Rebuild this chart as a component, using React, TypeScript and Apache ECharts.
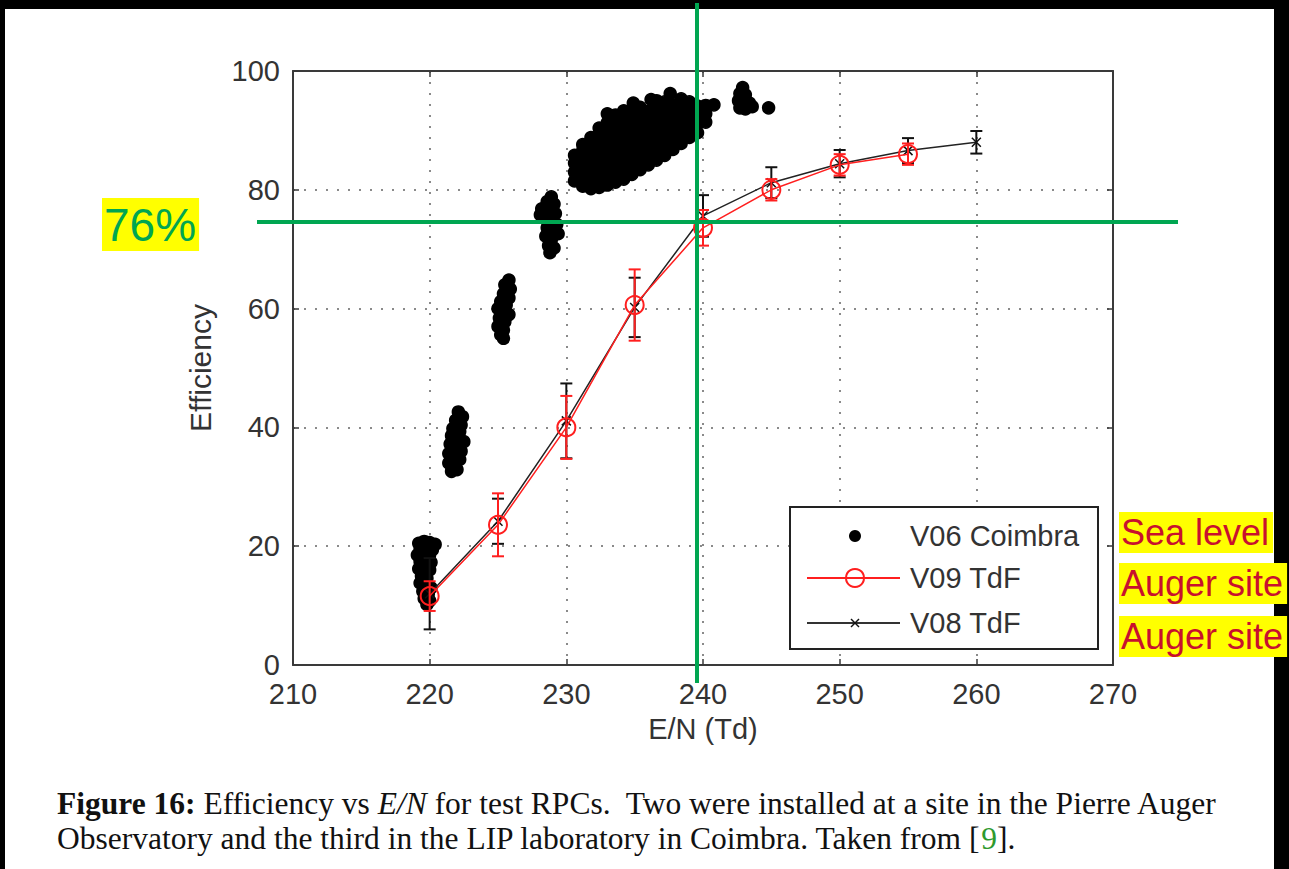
import React, { useEffect, useRef } from "react";
import * as echarts from "echarts";

// ---------- data ----------
const xTickValues = [210, 220, 230, 240, 250, 260, 270];
const yTickValues = [0, 20, 40, 60, 80, 100];

// V06 Coimbra (sea level) – dense clusters of measurements
const coimbra219: [number, number][] = [
  [219.2, 20.5], [219.6, 20.8], [220.0, 20.6], [220.4, 20.3], [219.3, 19.5], [219.8, 19.7],
  [220.2, 19.4], [219.1, 18.5], [219.5, 18.3], [220.0, 18.6], [219.3, 17.4], [219.7, 17.0],
  [220.1, 17.3], [219.2, 16.2], [219.6, 15.8], [220.0, 16.0], [219.4, 15.0], [219.8, 14.6],
  [219.3, 13.8], [219.7, 13.4], [220.1, 13.0], [219.5, 12.4], [219.9, 12.0], [219.6, 11.2],
  [220.0, 10.8], [219.8, 10.2],
];
const coimbra222: [number, number][] = [
  [222.1, 42.6], [222.4, 41.8], [221.9, 41.2], [222.3, 40.4], [221.7, 39.8], [222.2, 39.3],
  [221.6, 38.6], [222.0, 38.0], [222.5, 37.6], [221.5, 37.2], [221.9, 36.6], [222.3, 36.0],
  [221.4, 35.6], [221.8, 35.0], [222.2, 34.6], [221.4, 34.0], [221.8, 33.4], [221.6, 32.6],
  [222.0, 32.9],
];
const coimbra225: [number, number][] = [
  [225.8, 64.8], [225.5, 64.0], [225.9, 63.3], [225.4, 62.5], [225.8, 61.8], [225.2, 61.2],
  [225.6, 60.6], [225.0, 60.0], [225.4, 59.4], [225.8, 59.0], [225.1, 58.4], [225.5, 57.8],
  [225.0, 57.0], [225.4, 56.4], [225.2, 55.6], [225.4, 55.0],
];
const coimbra229: [number, number][] = [
  [228.9, 78.8], [228.6, 78.0], [229.1, 77.6], [228.2, 76.8], [228.7, 76.4], [229.2, 76.0],
  [228.4, 75.2], [228.9, 74.8], [229.3, 74.2], [228.6, 73.6], [229.0, 73.0], [228.5, 72.2],
  [228.9, 71.6], [228.7, 70.6], [229.1, 70.2], [228.8, 69.4], [228.1, 75.8], [229.4, 72.6],
];
const coimbraBand: [number, number][] = [
  [230.6, 81.5], [230.6, 83.0], [230.6, 84.5], [230.6, 85.8],
  [231.2, 80.6], [231.2, 82.1], [231.2, 83.6], [231.2, 85.1], [231.2, 86.6], [231.2, 87.6],
  [231.8, 80.2], [231.8, 81.7], [231.8, 83.2], [231.8, 84.7], [231.8, 86.2], [231.8, 87.7], [231.8, 88.8],
  [232.4, 80.4], [232.4, 81.9], [232.4, 83.4], [232.4, 84.9], [232.4, 86.4], [232.4, 87.9], [232.4, 89.4], [232.4, 90.4],
  [233.0, 80.8], [233.0, 82.3], [233.0, 83.8], [233.0, 85.3], [233.0, 86.8], [233.0, 88.3], [233.0, 89.8], [233.0, 91.3], [233.0, 92.8],
  [233.6, 81.3], [233.6, 82.8], [233.6, 84.3], [233.6, 85.8], [233.6, 87.3], [233.6, 88.8], [233.6, 90.3], [233.6, 91.8], [233.6, 92.6],
  [234.2, 81.8], [234.2, 83.3], [234.2, 84.8], [234.2, 86.3], [234.2, 87.8], [234.2, 89.3], [234.2, 90.8], [234.2, 92.3], [234.2, 93.3],
  [234.8, 82.6], [234.8, 84.1], [234.8, 85.6], [234.8, 87.1], [234.8, 88.6], [234.8, 90.1], [234.8, 91.6], [234.8, 93.1], [234.9, 94.6],
  [235.4, 83.4], [235.4, 84.9], [235.4, 86.4], [235.4, 87.9], [235.4, 89.4], [235.4, 90.9], [235.4, 92.4], [235.4, 93.9],
  [236.0, 84.2], [236.0, 85.7], [236.0, 87.2], [236.0, 88.7], [236.0, 90.2], [236.0, 91.7], [236.0, 93.2], [236.2, 95.2],
  [236.6, 85.0], [236.6, 86.5], [236.6, 88.0], [236.6, 89.5], [236.6, 91.0], [236.6, 92.5], [236.6, 94.0], [236.6, 95.0],
  [237.2, 85.8], [237.2, 87.3], [237.2, 88.8], [237.2, 90.3], [237.2, 91.8], [237.2, 93.3], [237.2, 94.8],
  [237.8, 86.8], [237.8, 88.3], [237.8, 89.8], [237.8, 91.3], [237.8, 92.8], [237.8, 94.3], [237.6, 96.2],
  [238.4, 87.8], [238.4, 89.3], [238.4, 90.8], [238.4, 92.3], [238.4, 93.8], [238.4, 95.3],
  [239.0, 88.8], [239.0, 90.3], [239.0, 91.8], [239.0, 93.3], [239.0, 94.8],
  [239.6, 89.6], [239.6, 91.1], [239.6, 92.6], [239.6, 94.1],
  [240.2, 91.4], [240.2, 92.8], [240.2, 94.2], [240.8, 94.3],
];
const coimbra243: [number, number][] = [
  [242.9, 97.2], [242.7, 96.2], [243.1, 96.0], [242.6, 95.0], [243.0, 94.9], [243.4, 94.6],
  [242.7, 93.8], [243.1, 93.6], [243.6, 94.0], [244.8, 93.8],
];

// V09 TdF (Auger site)
const v09X = [220, 225, 230, 235, 240, 245, 250, 255];
const v09Eff = [11.6, 23.6, 40.0, 60.6, 73.6, 80.0, 84.2, 86.0];
const v09Err = [2.5, 5.3, 5.3, 6.0, 3.0, 1.8, 1.8, 1.8];

// V08 TdF (Auger site)
const v08X = [220, 225, 230, 235, 240, 245, 250, 255, 260];
const v08Eff = [12.0, 24.2, 41.1, 60.2, 75.6, 81.2, 84.4, 86.6, 88.0];
const v08Err = [6.0, 3.8, 6.3, 5.0, 3.5, 2.6, 2.3, 2.1, 1.9];

const legendNames = ["V06 Coimbra", "V09 TdF", "V08 TdF"];
const siteNotes = ["Sea level", "Auger site", "Auger site"];

// ---------- styling ----------
const SANS = "'Liberation Sans', Arial, Helvetica, sans-serif";
const SERIF = "'Liberation Serif', 'Times New Roman', serif";
const GREEN = "#00A651";
const NOTE_RED = "#C8102E";
const LINE_RED = "#FF1F1F";
const AXIS_GREY = "#3a3a3a";
const LABEL_GREY = "#333";
const CAPTION_SIZE = 31.5;

function errorBars(name: string, xs: number[], ys: number[], errs: number[], color: string, z: number) {
  return {
    type: "custom",
    name,
    silent: true,
    z,
    data: xs.map((x, i) => [x, ys[i] - errs[i], ys[i] + errs[i]]),
    encode: { x: 0, y: [1, 2] },
    renderItem: (_params: any, api: any) => {
      const x = api.value(0);
      const lo = api.coord([x, api.value(1)]);
      const hi = api.coord([x, api.value(2)]);
      const w = 6;
      const style = { stroke: color, lineWidth: 2 };
      return {
        type: "group",
        children: [
          { type: "line", shape: { x1: lo[0], y1: lo[1], x2: hi[0], y2: hi[1] }, style },
          { type: "line", shape: { x1: lo[0] - w, y1: lo[1], x2: lo[0] + w, y2: lo[1] }, style },
          { type: "line", shape: { x1: hi[0] - w, y1: hi[1], x2: hi[0] + w, y2: hi[1] }, style },
        ],
      };
    },
  };
}

function noteText(text: string, x: number, y: number, size: number, fill: string, padding: number[]) {
  return {
    type: "text",
    x,
    y,
    z: 120,
    style: {
      text,
      fill,
      fontSize: size,
      fontFamily: SANS,
      lineHeight: size + 1,
      backgroundColor: "#FFFF00",
      padding,
      align: "left",
      verticalAlign: "top",
      textAlign: "left",
      textVerticalAlign: "top",
    },
  };
}

const frameAxis = {
  axisLine: { show: true, onZero: false, lineStyle: { color: AXIS_GREY, width: 2 } },
  axisTick: { show: true, inside: true, length: 6, lineStyle: { color: AXIS_GREY, width: 1.5 } },
};

export default function App() {
  const ref = useRef<HTMLDivElement>(null);

  useEffect(() => {
    if (!ref.current) return;
    const chart = echarts.init(ref.current, undefined, { renderer: "svg" });

    const coimbra = [...coimbra219, ...coimbra222, ...coimbra225, ...coimbra229, ...coimbraBand, ...coimbra243];

    const legendTextStyle = (t: string, y: number) => ({
      type: "text",
      x: 910,
      y,
      z: 110,
      style: {
        text: t,
        fill: LABEL_GREY,
        fontSize: 29,
        fontFamily: SANS,
        align: "left",
        verticalAlign: "middle",
        textAlign: "left",
        textVerticalAlign: "middle",
      },
    });

    const serifTok = (extra: any) => ({ fontSize: CAPTION_SIZE, fontFamily: SERIF, fill: "#111", ...extra });

    const option: any = {
      animation: false,
      backgroundColor: "#000",
      grid: { left: 293, right: 176, top: 71, bottom: 204, containLabel: false },
      xAxis: [
        {
          type: "value",
          min: xTickValues[0],
          max: xTickValues[xTickValues.length - 1],
          interval: 10,
          position: "bottom",
          name: "E/N (Td)",
          nameLocation: "middle",
          nameGap: 49,
          nameTextStyle: { fontSize: 29, fontFamily: SANS, color: LABEL_GREY },
          ...frameAxis,
          axisLabel: { fontSize: 29, fontFamily: SANS, color: LABEL_GREY, margin: 14 },
          splitLine: { show: true, lineStyle: { color: "#8a8a8a", width: 2, type: [2, 9] } },
        },
        {
          type: "value",
          min: xTickValues[0],
          max: xTickValues[xTickValues.length - 1],
          interval: 10,
          position: "top",
          ...frameAxis,
          axisLabel: { show: false },
          splitLine: { show: false },
        },
      ],
      yAxis: [
        {
          type: "value",
          min: yTickValues[0],
          max: yTickValues[yTickValues.length - 1],
          interval: 20,
          position: "left",
          name: "Efficiency",
          nameLocation: "middle",
          nameGap: 78,
          nameTextStyle: { fontSize: 30, fontFamily: SANS, color: LABEL_GREY },
          ...frameAxis,
          axisLabel: { fontSize: 29, fontFamily: SANS, color: LABEL_GREY, margin: 13 },
          splitLine: { show: true, lineStyle: { color: "#8a8a8a", width: 2, type: [2, 9] } },
        },
        {
          type: "value",
          min: yTickValues[0],
          max: yTickValues[yTickValues.length - 1],
          interval: 20,
          position: "right",
          ...frameAxis,
          axisLabel: { show: false },
          splitLine: { show: false },
        },
      ],
      series: [
        {
          type: "scatter",
          name: legendNames[0],
          data: coimbra,
          symbol: "circle",
          symbolSize: 12,
          itemStyle: { color: "#000", opacity: 1, borderColor: "#000", borderWidth: 1.5 },
          z: 2,
          silent: true,
        },
        errorBars("V08 TdF error", v08X, v08Eff, v08Err, "#111", 3),
        {
          type: "line",
          name: legendNames[2],
          data: v08X.map((x, i) => [x, v08Eff[i]]),
          symbol: "path://M0,0L10,10M10,0L0,10",
          symbolSize: 9,
          itemStyle: { color: "#111", borderColor: "#111", borderWidth: 1.5 },
          lineStyle: { color: "#222", width: 1.5 },
          z: 4,
          silent: true,
        },
        errorBars("V09 TdF error", v09X, v09Eff, v09Err, LINE_RED, 5),
        {
          type: "line",
          name: legendNames[1],
          data: v09X.map((x, i) => [x, v09Eff[i]]),
          symbol: "circle",
          symbolSize: 18,
          itemStyle: { color: "rgba(0,0,0,0)", borderColor: LINE_RED, borderWidth: 2 },
          lineStyle: { color: LINE_RED, width: 1.5 },
          z: 6,
          silent: true,
        },
      ],
      graphic: [
        // white page
        { type: "rect", z: -10, shape: { x: 5, y: 9, width: 1269, height: 860 }, style: { fill: "#fff" } },
        // legend box
        { type: "rect", z: 100, shape: { x: 790, y: 507, width: 308, height: 142 }, style: { fill: "#fff", stroke: "#222", lineWidth: 2 } },
        { type: "circle", z: 110, shape: { cx: 855, cy: 536, r: 6 }, style: { fill: "#000" } },
        legendTextStyle(legendNames[0], 536),
        { type: "line", z: 110, shape: { x1: 807, y1: 578, x2: 900, y2: 578 }, style: { stroke: LINE_RED, lineWidth: 2 } },
        { type: "circle", z: 111, shape: { cx: 855, cy: 578, r: 9 }, style: { fill: "rgba(0,0,0,0)", stroke: LINE_RED, lineWidth: 2 } },
        legendTextStyle(legendNames[1], 578),
        { type: "line", z: 110, shape: { x1: 807, y1: 623, x2: 900, y2: 623 }, style: { stroke: "#333", lineWidth: 2 } },
        { type: "line", z: 111, shape: { x1: 851, y1: 619, x2: 859, y2: 627 }, style: { stroke: "#111", lineWidth: 1.5 } },
        { type: "line", z: 111, shape: { x1: 859, y1: 619, x2: 851, y2: 627 }, style: { stroke: "#111", lineWidth: 1.5 } },
        legendTextStyle(legendNames[2], 623),
        // green guide lines
        { type: "line", z: 130, shape: { x1: 697, y1: 3, x2: 697, y2: 683 }, style: { stroke: GREEN, lineWidth: 4 } },
        { type: "line", z: 130, shape: { x1: 257, y1: 222, x2: 1178, y2: 222 }, style: { stroke: GREEN, lineWidth: 4 } },
        // annotations
        noteText("76%", 102, 198, 46, GREEN, [3, 3, 3, 2]),
        noteText(siteNotes[0], 1119, 512, 36, NOTE_RED, [2, 4, 2, 2]),
        noteText(siteNotes[1], 1119, 563, 36, NOTE_RED, [2, 4, 2, 2]),
        noteText(siteNotes[2], 1119, 616, 36, NOTE_RED, [2, 4, 2, 2]),
        // caption
        {
          type: "text",
          x: 57,
          y: 803,
          z: 50,
          style: {
            text: "{b|Figure 16:} Efficiency vs {i|E/N} for test RPCs.  Two were installed at a site in the Pierre Auger",
            fontSize: CAPTION_SIZE,
            fontFamily: SERIF,
            fill: "#111",
            align: "left",
            verticalAlign: "middle",
            textAlign: "left",
            textVerticalAlign: "middle",
            rich: {
              b: serifTok({ fontWeight: "bold" }),
              i: serifTok({ fontStyle: "italic" }),
            },
          },
        },
        {
          type: "text",
          x: 57,
          y: 838,
          z: 50,
          style: {
            text: "Observatory and the third in the LIP laboratory in Coimbra. Taken from [{g|9}].",
            fontSize: CAPTION_SIZE,
            fontFamily: SERIF,
            fill: "#111",
            align: "left",
            verticalAlign: "middle",
            textAlign: "left",
            textVerticalAlign: "middle",
            rich: {
              g: serifTok({ fill: "#2e9a2e", color: "#2e9a2e" }),
            },
          },
        },
      ],
    };

    chart.setOption(option);
    return () => chart.dispose();
  }, []);

  return (
    <div
      ref={ref}
      style={{ position: "absolute", left: 0, top: 0, width: 1289, height: 869 }}
    />
  );
}
